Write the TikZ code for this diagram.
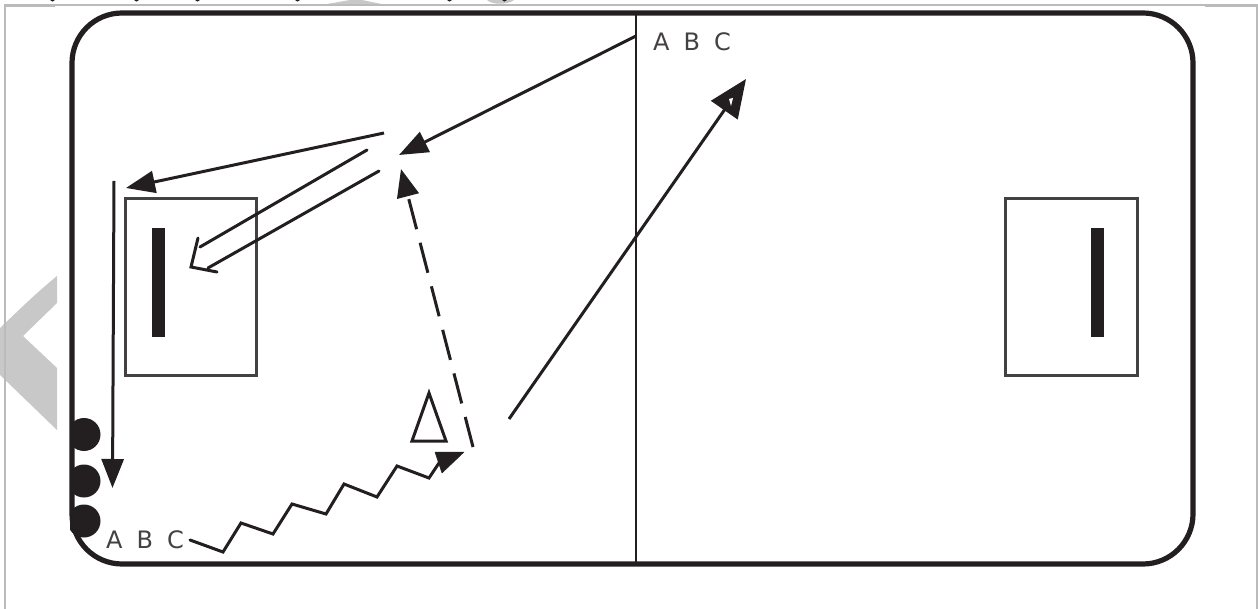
\documentclass[tikz,border=0pt]{standalone}
\usepackage{fontspec}
\setmainfont{DejaVu Sans}
\usetikzlibrary{arrows.meta}
\definecolor{ink}{HTML}{231F20}
\definecolor{wm}{HTML}{C8C8C8}
\definecolor{frameg}{HTML}{BBBBBB}
\tikzset{
  rink/.style={draw=ink,line width=5.2pt,rounded corners=50pt},
  midline/.style={draw=ink,line width=2.8pt},
  crease/.style={draw=ink!85,line width=3pt},
  goalbar/.style={fill=ink,draw=none},
  puck/.style={fill=ink,draw=none,circle,minimum size=33pt,inner sep=0pt},
  shot/.style={draw=ink,line width=3pt,-{Triangle[length=29pt,width=22pt]}},
  bigshot/.style={draw=ink,line width=3pt,-{Triangle[length=38pt,width=32pt]}},
  pass/.style={draw=ink,line width=3pt,line cap=round},
  abc/.style={text=ink!85,font=\fontsize{24}{24}\selectfont,inner sep=0pt,anchor=base west},
  headfill/.style={fill=ink,draw=ink,line width=.5pt,line join=round}
}
\begin{document}
\begin{tikzpicture}[x=1pt,y=-1pt]
\useasboundingbox (0,0) rectangle (1258,609);
\fill[white] (0,0) rectangle (1258,609);
% watermark fragments
\fill[wm] (57,276) .. controls (35,294) and (18,311) .. (0,328) -- (0,375) -- (57,430) -- (57,368) -- (23,336) -- (57,303) -- cycle;
\fill[wm] (324,4.5) -- (350,0) -- (362,0) -- (384,4.5) -- cycle;
\fill[wm] (487,0) .. controls (492,5) and (508,5) .. (514,0) -- cycle;
% page frame
\draw[frameg,line width=1.4pt] (5,609) -- (5,5) -- (1257,5) -- (1257,609);
\draw[frameg,line width=2pt] (5,6) -- (55,6);
\draw[frameg,line width=2pt] (1205,6) -- (1257,6);
% cropped line of text above the frame
\foreach \mx in {50,134,195,295,447,502}
  \fill[ink] (\mx,0) -- (\mx+5,0) .. controls (\mx+4,2.2) and (\mx+1,2.2) .. cycle;
% pucks, cut off by the boards
\begin{scope}
\clip (70,400) rectangle (110,540);
\node[puck] (p1) at (84,434.5) {};
\node[puck] (p2) at (84,481) {};
\node[puck] (p3) at (84,521) {};
\end{scope}
% rink
\draw[rink] (72,13) rectangle (1193,564);
\node[minimum size=0pt,inner sep=0pt] (midtop) at (636,13) {};
\node[minimum size=0pt,inner sep=0pt] (midbot) at (636,564) {};
\draw[midline] (midtop) -- (midbot);
% creases and goals
\draw[crease] (125,199) rectangle (256,376);
\draw[crease] (1005,199) rectangle (1137,376);
\fill[goalbar] (152,228) rectangle (165,337);
\fill[goalbar] (1091,228) rectangle (1104,337);
% labels
\node[abc] (abcA) at (653,51) {A\hspace{14pt}B\hspace{14pt}C};
\node[abc] (abcB) at (106,548) {A\hspace{14pt}B\hspace{14pt}C};
% coordinates
\coordinate (a0) at (636,36);
\coordinate (a1) at (399,155);
\coordinate (b0) at (384,133);
\coordinate (b1) at (126,188);
\coordinate (c0) at (114,181);
\coordinate (c1) at (112.5,488);
\coordinate (e0) at (473,447);
\coordinate (e1) at (401,169);
\coordinate (f0) at (509,419);
\coordinate (f1) at (746,79);
% shots and passes
\draw[shot] (a0) -- (a1);
\draw[shot] (b0) -- (b1);
\draw[shot] (c0) -- (c1);
\draw[draw=ink,line width=3pt,dash pattern=on 31pt off 14pt,-{Triangle[length=28pt,width=22pt]}] (e0) -- (e1);
\draw[bigshot] (f0) -- (f1);
\fill[white] (729,99) -- (733,98) -- (731,106) -- cycle;
% hollow arrow
\draw[pass] (367,150) -- (200,247);
\draw[pass] (379,171) -- (208,268);
\draw[pass] (198,238) -- (191,267) -- (217,272);
% skating zigzag
\draw[pass,line join=miter] (190,540) -- (223,552) -- (241,523) -- (273,534) -- (292,504) -- (326,514) -- (344,484) -- (377,497) -- (397,466) -- (429,478) -- (441,460);
\fill[headfill] (464,452) -- (435,452) -- (442,473) -- cycle;
% cone
\draw[draw=ink,line width=3pt,line join=miter] (429,393) -- (412,441) -- (446,441) -- cycle;
\end{tikzpicture}
\end{document}
